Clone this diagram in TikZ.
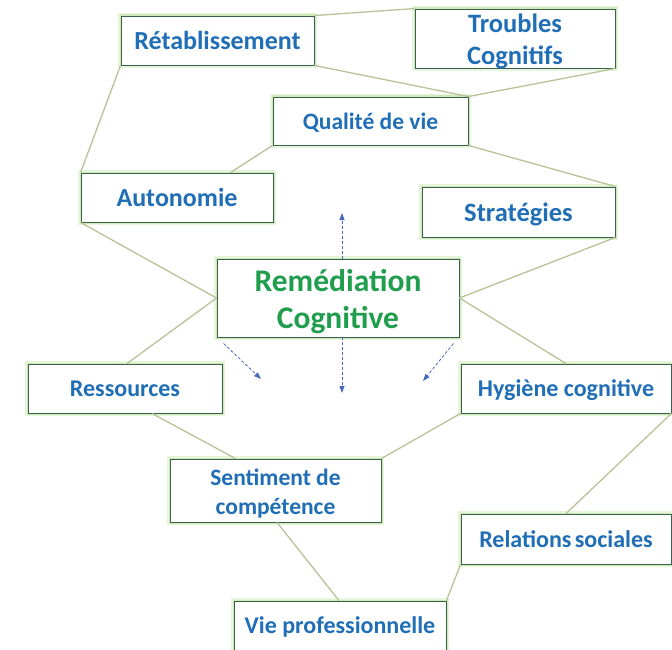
\documentclass[tikz,border=0pt]{standalone}
\usepackage{fontspec}
\newfontfamily\calib{Carlito}
\usetikzlibrary{arrows.meta}
\definecolor{txtblue}{RGB}{31,110,182}
\definecolor{txtgreen}{RGB}{32,158,78}
\definecolor{boxline}{RGB}{58,96,78}
\definecolor{glowc}{RGB}{198,230,170}
\definecolor{linkc}{RGB}{184,195,152}
\definecolor{arrc}{RGB}{72,104,192}
% move the text down by #1 inside its centred box (depth reduced by 2*#1)
\newcommand{\shiftdown}[2]{\raisebox{0pt}[\height][\dimexpr\depth-#1-#1\relax]{#2}}
\newcommand{\twolines}[3]{\shiftdown{#1}{\begin{tabular}{@{}c@{}}#2\\#3\end{tabular}}}
\tikzset{
  box/.style={draw=boxline, line width=0.9pt, fill=white, inner sep=0pt,
    align=center, text=txtblue,
    preaction={draw=glowc!40, line width=6.5pt},
    preaction={draw=glowc!85, line width=3pt}},
  link/.style={draw=linkc, line width=1.3pt},
  arr/.style={draw=arrc, line width=0.8pt, dash pattern=on 3pt off 2pt,
    -{Triangle[length=7pt,width=5pt]}}
}
\begin{document}
\begin{tikzpicture}[x=1pt,y=-1pt]
\useasboundingbox[fill=white] (0,0) rectangle (672,650);
% boxes
\node[box, minimum width=193pt, minimum height=49pt, font=\calib\bfseries\fontsize{26}{30}\selectfont] (ret) at (217.5,40.5) {Rétablissement};
\node[box, minimum width=200pt, minimum height=59pt, font=\calib\bfseries\fontsize{26.5}{32}\selectfont] (tro) at (515,38.5) {\twolines{4pt}{Troubles}{Cognitifs}};
\node[box, minimum width=195pt, minimum height=48pt, font=\calib\bfseries\fontsize{23.5}{28}\selectfont] (qua) at (370.5,121) {\shiftdown{1.5pt}{Qualité de vie}};
\node[box, minimum width=192pt, minimum height=49pt, font=\calib\bfseries\fontsize{26}{30}\selectfont] (aut) at (177,197.5) {\shiftdown{1pt}{Autonomie}};
\node[box, minimum width=193pt, minimum height=50pt, font=\calib\bfseries\fontsize{26.5}{30}\selectfont] (str) at (518.5,212) {\shiftdown{2pt}{Stratégies}};
\node[box, minimum width=242pt, minimum height=78pt, text=txtgreen, font=\calib\bfseries\fontsize{31.5}{37}\selectfont] (rem) at (338,298) {\twolines{4.5pt}{Remédiation}{Cognitive}};
\node[box, minimum width=194pt, minimum height=49pt, font=\calib\bfseries\fontsize{24}{28}\selectfont] (res) at (125,388.5) {\shiftdown{1pt}{Ressources}};
\node[box, minimum width=210pt, minimum height=49pt, font=\calib\bfseries\fontsize{24}{28}\selectfont] (hyg) at (566,388.5) {\shiftdown{3pt}{Hygiène cognitive}};
\node[box, minimum width=211pt, minimum height=63pt, font=\calib\bfseries\fontsize{23.5}{29}\selectfont] (sen) at (275.5,490.5) {\twolines{3.5pt}{Sentiment de}{compétence}};
\node[box, minimum width=210pt, minimum height=50pt, font=\calib\bfseries\fontsize{24}{28}\selectfont] (rel) at (566,539) {\shiftdown{1pt}{Relations\hspace{-2pt} sociales}};
\node[box, minimum width=212pt, minimum height=50pt, font=\calib\bfseries\fontsize{24}{28}\selectfont] (vie) at (340,626) {\shiftdown{1pt}{Vie professionnelle}};
% links
\draw[link] (ret.north east) -- (tro.north west);
\draw[link] (ret.south east) -- (qua.north east);
\draw[link] (tro.south east) -- (qua.north east);
\draw[link] (ret.south west) -- (aut.north west);
\draw[link] (qua.south west) -- ([xshift=-43pt]aut.north east);
\draw[link] (qua.south east) -- (str.north east);
\draw[link] (aut.south west) -- (rem.west);
\draw[link] (rem.west) -- ([xshift=2pt]res.north);
\draw[link] (rem.east) -- (str.south east);
\draw[link] (rem.east) -- (hyg.north);
\draw[link] ([xshift=27pt]res.south) -- ([xshift=-40pt]sen.north);
\draw[link] (hyg.south west) -- (sen.north east);
\draw[link] (hyg.south east) -- (rel.north);
\draw[link] ([xshift=1.5pt]sen.south) -- ([xshift=-1pt]vie.north);
\draw[link] (rel.south west) -- (vie.north east);
% arrows
\coordinate (upend) at (342,213);
\coordinate (downend) at (342,393);
\coordinate (dlend) at (261,379);
\coordinate (drend) at (423,381);
\draw[arr] ([xshift=4pt]rem.north) -- (upend);
\draw[arr] ([xshift=4pt]rem.south) -- (downend);
\draw[arr] ([shift={(7pt,-6pt)}]rem.south west) -- (dlend);
\draw[arr] ([shift={(-6pt,-6pt)}]rem.south east) -- (drend);
\end{tikzpicture}
\end{document}
